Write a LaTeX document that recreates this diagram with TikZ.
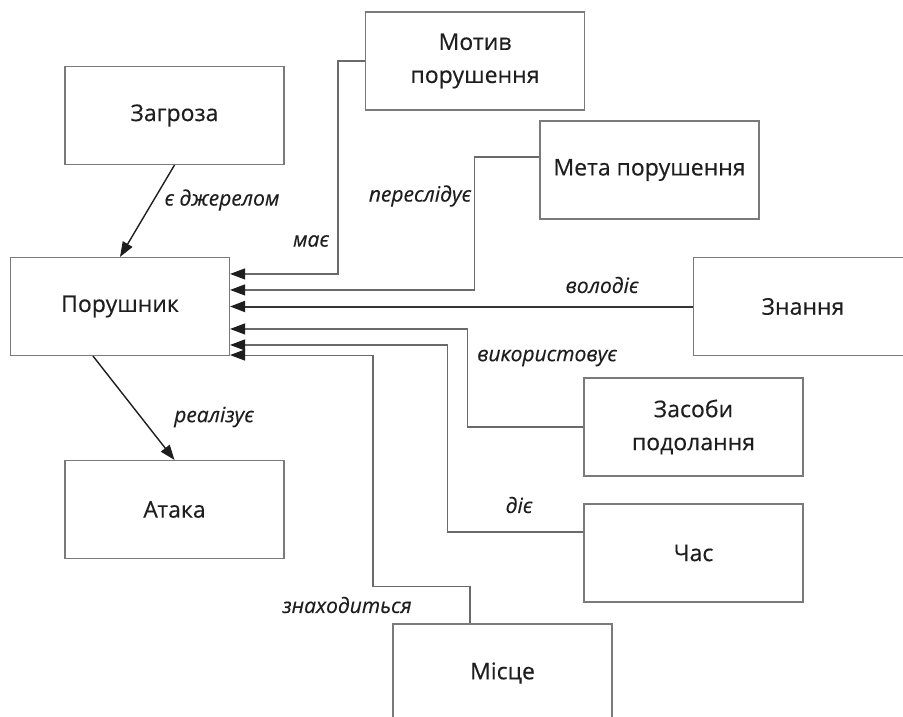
\documentclass[tikz,border=0pt]{standalone}
\usepackage{fontspec}
\setmainfont{Open Sans}[FakeBold=0.35, ItalicFeatures={FakeBold=0.35}]
\usetikzlibrary{arrows.meta,calc}
\definecolor{boxgray}{HTML}{7A7A7A}
\definecolor{linegray}{HTML}{6A6A6A}
\definecolor{ink}{HTML}{1E1E1E}
\tikzset{
  box/.style={draw=boxgray, line width=1.1pt, minimum width=219pt, minimum height=98pt,
    inner sep=0pt, align=center, font=\fontsize{23}{33}\selectfont, text=ink},
  lbl/.style={font=\fontsize{21}{24}\selectfont\itshape, text=ink, inner sep=0pt},
  tip/.style={-{Triangle[length=15pt,width=11pt,color=ink]}},
  conn/.style={tip, draw=linegray, line width=1.1pt},
  mainconn/.style={tip, draw=ink, line width=1.4pt},
  thickconn/.style={tip, draw=ink!90, line width=2pt}
}
\begin{document}
\begin{tikzpicture}[x=1pt,y=-1pt]
\useasboundingbox (0,0) rectangle (903,717);
\node[box] (zag) at (174.5,115.5) {Загроза};
\node[box] (por) at (120,306.5) {Порушник};
\node[box] (motiv) at (475,61) {Мотив\\порушення};
\node[box] (meta) at (649.5,170) {Мета порушення};
\node[box] (znan) at (803,306.5) {Знання};
\node[box] (zasob) at (693.5,427) {Засоби\\подолання};
\node[box] (chas) at (693.5,553) {Час};
\node[box] (mistse) at (502.5,673) {Місце};
\node[box] (ataka) at (174.5,509.5) {Атака};

\draw[mainconn] (zag.south) -- (por.north);
\draw[mainconn] ([xshift=-27pt]por.south) -- (ataka.north);

\draw[conn] (motiv.west) -- ++(-27,0) |- ([yshift=-17pt]por.north east);
\draw[conn] ([yshift=13pt]meta.west) -- ++(-65,0) |- ([yshift=-33pt]por.north east);
\draw[thickconn] (znan.west) -- (por.east);
\draw[conn] (zasob.west) -- ++(-116,0) |- ([yshift=-72pt]por.north east);
\draw[conn] ([yshift=21pt]chas.west) -- ++(-136,0) |- ([yshift=-88pt]por.north east);
\draw[conn] ([xshift=-32.5pt]mistse.north) -- ++(0,-37) -- ++(-97,0) |- ([yshift=1pt]por.south east);

\node[lbl] (l1) at (222,200) {є джерелом};
\node[lbl] (l2) at (214,417) {реалізує};
\node[lbl] (l3) at (311,241) {має};
\node[lbl] (l4) at (420,196) {переслідує};
\node[lbl] (l5) at (602,285) {володіє};
\node[lbl] (l6) at (547,358) {використовує};
\node[lbl] (l7) at (519,505) {діє};
\node[lbl] (l8) at (347,605) {знаходиться};
\end{tikzpicture}
\end{document}
